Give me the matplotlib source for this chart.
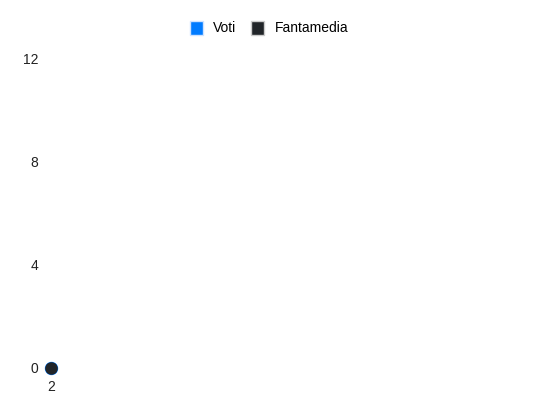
import matplotlib.pyplot as plt
from matplotlib.patches import Patch

plt.rcParams['font.family'] = ['Liberation Sans', 'DejaVu Sans']

# dati
giornate = ['2']
voti = [0]
fantamedia = [0]

blu = '#007bff'
scuro = '#212529'

fig = plt.figure(figsize=(5.5, 4.12), dpi=100)
ax = fig.add_axes([0.0927, 0.1068, 0.89, 0.75])

x = list(range(len(giornate)))
ax.plot(x, voti, color=blu, marker='o', markersize=8.6, linewidth=2, clip_on=False, zorder=3)
ax.plot(x, fantamedia, color=scuro, marker='o', markersize=8, linewidth=2, clip_on=False, zorder=4)

ax.set_xlim(0, 1)
ax.set_ylim(0, 12)
ax.set_xticks(x)
ax.set_xticklabels(giornate)
ax.set_yticks([0, 4, 8, 12])
for s in ax.spines.values():
    s.set_visible(False)
ax.tick_params(length=0, labelsize=10, colors='#222222')
ax.tick_params(axis='y', pad=9)
ax.tick_params(axis='x', pad=9)

maniglie = [Patch(facecolor=blu, edgecolor='#cfe3ff', label='Voti'),
            Patch(facecolor=scuro, edgecolor='#cccccc', label='Fantamedia')]
fig.legend(handles=maniglie, loc='center', bbox_to_anchor=(0.489, 0.932), ncol=2,
           frameon=False, fontsize=10, handlelength=0.95, handleheight=1.15,
           handletextpad=0.75, columnspacing=1.05)

fig.savefig('out.png', dpi=100)
